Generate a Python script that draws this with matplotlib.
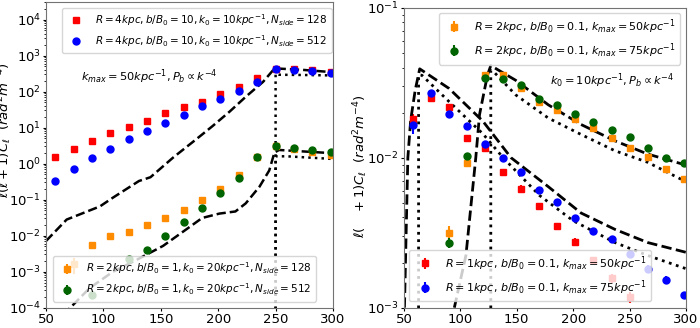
import numpy as np
import matplotlib
matplotlib.use("Agg")
import matplotlib.pyplot as plt

# multipole bins
ell = [58, 74, 90, 106, 122, 138, 154, 170, 186, 202, 218, 234, 250, 266, 282, 298]

# ---- left panel data ----
red_L = [1.52, 2.5, 4.3, 7.2, 10.7, 15.8, 25.7, 37, 53, 86, 137, 245, 430, 430, 388, 350]
blue_L = [0.33, 0.71, 1.44, 2.6, 4.8, 8.1, 13.7, 22.5, 39, 62, 106, 187, 413, 388, 364, 330]
ell_orange_L = [74, 90, 106, 122, 138, 154, 170, 186, 202, 218, 234, 250, 266, 282, 298]
orange_L = [1.65e-3, 5.5e-3, 9.8e-3, 1.3e-2, 2.0e-2, 3.0e-2, 5.0e-2, 9.8e-2, 0.2, 0.48, 1.5, 3.1, 2.5, 2.06, 1.78]
orange_L_err = [8e-4, 5e-4, 5e-4, 5e-4, 6e-4, 8e-4, 1e-3, 2e-3, 4e-3, 1e-2, 3e-2, 6e-2, 5e-2, 4e-2, 4e-2]
ell_green_L = [90, 122, 138, 154, 170, 186, 202, 218, 234, 250, 266, 282, 298]
green_L = [2.3e-4, 2.2e-3, 4.1e-3, 9.8e-3, 2.4e-2, 6.0e-2, 0.156, 0.41, 1.5, 3.1, 2.65, 2.4, 2.06]
green_L_err = [6e-5, 2e-4, 3e-4, 5e-4, 8e-4, 2e-3, 4e-3, 1e-2, 3e-2, 6e-2, 5e-2, 4e-2, 4e-2]

dash_hi_ell = [50, 68, 97, 108, 131, 141, 161, 181, 195, 210, 224, 239, 249, 253, 275, 300]
dash_hi = [7.1e-3, 0.028, 0.065, 0.112, 0.33, 0.42, 1.5, 4.8, 11, 28, 72, 186, 437, 437, 400, 347]
dash_lo_ell = [65, 88, 108, 131, 152, 172, 186, 201, 215, 224, 236, 244.5, 249, 253, 300]
dash_lo = [6.3e-5, 3.5e-4, 9.8e-4, 2.3e-3, 5.2e-3, 0.0148, 0.031, 0.041, 0.047, 0.079, 0.23, 0.65, 2.04, 2.4, 1.95]
dot_hi_ell = [250, 250, 253, 275, 300]
dot_hi = [1e-6, 316, 295, 290, 282]
dot_lo_ell = [250, 250, 260, 300]
dot_lo = [1e-6, 1.6, 1.6, 1.35]

# ---- right panel data ----
ell_red_R = ell[:13]
red_R = [0.0182, 0.0252, 0.0217, 0.0136, 0.0117, 0.00803, 0.0062, 0.00479, 0.0035, 0.00275, 0.00209, 0.00157, 0.00117]
red_R_err = [0.0015, 0.001, 0.001, 0.0006, 0.0007, 0.0004, 0.0004, 0.0002, 0.00015, 0.00015, 0.0001, 0.0001, 0.0001]
blue_R = [0.0165, 0.0269, 0.0196, 0.01626, 0.01245, 0.00998, 0.00807, 0.0061, 0.0051, 0.00397, 0.00324, 0.00288, 0.00227, 0.00182, 0.00153, 0.00121]
blue_R_err = [0.002, 0.001, 0.001, 0.0006, 0.0005, 0.0005, 0.0003, 0.0002, 0.0002, 0.00015, 0.0001, 0.0001, 0.0001, 0.0001, 0.0001, 0.00005]
ell_R2 = ell[2:]
orange_R = [0.00313, 0.0092, 0.0355, 0.0358, 0.0293, 0.0235, 0.0209, 0.0182, 0.0158, 0.0135, 0.0116, 0.0101, 0.00836, 0.00726]
orange_R_err = [0.00035, 0.0005, 0.001, 0.001, 0.0008, 0.0006, 0.0005, 0.0005, 0.0004, 0.0007, 0.0006, 0.0003, 0.0003, 0.0002]
green_R = [0.0027, 0.0102, 0.034, 0.0337, 0.0308, 0.0247, 0.0225, 0.0196, 0.0173, 0.0153, 0.0138, 0.0116, 0.00998, 0.0092]
green_R_err = [0.0002, 0.0005, 0.001, 0.001, 0.0008, 0.0006, 0.0005, 0.0004, 0.0004, 0.0003, 0.0003, 0.0003, 0.0002, 0.0002]

dash1_ell = [50.5, 52, 53.5, 56, 60, 64, 90, 120, 145, 178, 207, 237, 266, 300]
dash1 = [1e-3, 3.2e-3, 0.01, 0.0178, 0.0282, 0.0392, 0.029, 0.01754, 0.01, 0.00641, 0.00428, 0.00333, 0.00272, 0.00234]
dot1_ell = [63, 63, 66, 90, 120, 138, 170, 200, 237, 266, 300]
dot1 = [7.9e-4, 0.0358, 0.0355, 0.0237, 0.01445, 0.0100, 0.00562, 0.0038, 0.00272, 0.00223, 0.00182]
dash2_ell = [94.7, 105, 113.7, 117, 124, 127, 149, 178, 207, 237, 266, 301]
dash2 = [1e-3, 2.24e-3, 0.01, 0.01936, 0.0355, 0.0412, 0.0329, 0.02254, 0.01667, 0.01297, 0.01059, 0.00889]
dot2_ell = [127, 127, 130, 149, 178, 207, 237, 266, 300]
dot2 = [7.9e-4, 0.0382, 0.0372, 0.0263, 0.0184, 0.0143, 0.01114, 0.00933, 0.00692]

ylab_L = r"$\ell(\ell+1)C_\ell$  $(rad^2m^{-4})$"
ylab_R = r"$\ell(\ \ \ +1)C_\ell$  $(rad^2m^{-4})$"

fig = plt.figure(figsize=(7, 3.28), dpi=100)
axL = fig.add_axes([0.0657, 0.062, 0.41, 0.932])
axR = fig.add_axes([0.577, 0.062, 0.403, 0.914])

ms = 5
# left panel
l1 = axL.errorbar(ell, red_L, fmt='s', color='red', ms=ms, label=r"$R=4kpc, b/B_0=10, k_0=10kpc^{-1}, N_{side}=128$")
l2 = axL.errorbar(ell, blue_L, fmt='o', color='blue', ms=ms, label=r"$R=4kpc, b/B_0=10, k_0=10kpc^{-1}, N_{side}=512$")
l3 = axL.errorbar(ell_orange_L, orange_L, yerr=orange_L_err, fmt='s', color='darkorange', ms=ms, label=r"$R=2kpc, b/B_0=1, k_0=20kpc^{-1}, N_{side}=128$")
l4 = axL.errorbar(ell_green_L, green_L, yerr=green_L_err, fmt='o', color='darkgreen', ms=ms, label=r"$R=2kpc, b/B_0=1, k_0=20kpc^{-1}, N_{side}=512$")
axL.plot(dash_hi_ell, dash_hi, 'k--', lw=1.8)
axL.plot(dash_lo_ell, dash_lo, 'k--', lw=1.8)
axL.plot(dot_hi_ell, dot_hi, 'k:', lw=1.8)
axL.plot(dot_lo_ell, dot_lo, 'k:', lw=1.8)
axL.set_yscale('log')
axL.set_xlim(50, 300)
axL.set_ylim(1e-4, 3.1e4)
axL.text(0.122, 0.756, r"$k_{max}=50kpc^{-1}, P_b \propto k^{-4}$", transform=axL.transAxes, fontsize=8.2, va='center')
legA = axL.legend(handles=[l1, l2], loc='upper right', bbox_to_anchor=(0.995, 0.98), borderaxespad=0, fontsize=7.5)
axL.add_artist(legA)
axL.legend(handles=[l3, l4], loc='lower left', bbox_to_anchor=(0.023, 0.02), borderaxespad=0, fontsize=7.5)
axL.set_ylabel(ylab_L, fontsize=9.5)
axL.yaxis.set_label_coords(-0.112, 0.58)

# right panel
r1 = axR.errorbar(ell_red_R, red_R, yerr=red_R_err, fmt='s', color='red', ms=ms, label=r"$R=1kpc$, $b/B_0=0.1$, $k_{max}=50kpc^{-1}$")
r2 = axR.errorbar(ell, blue_R, yerr=blue_R_err, fmt='o', color='blue', ms=ms, label=r"$R=1kpc$, $b/B_0=0.1$, $k_{max}=75kpc^{-1}$")
r3 = axR.errorbar(ell_R2, orange_R, yerr=orange_R_err, fmt='s', color='darkorange', ms=ms, label=r"$R=2kpc$, $b/B_0=0.1$, $k_{max}=50kpc^{-1}$")
r4 = axR.errorbar(ell_R2, green_R, yerr=green_R_err, fmt='o', color='darkgreen', ms=ms, label=r"$R=2kpc$, $b/B_0=0.1$, $k_{max}=75kpc^{-1}$")
axR.plot(dash1_ell, dash1, 'k--', lw=2)
axR.plot(dot1_ell, dot1, 'k:', lw=2)
axR.plot(dash2_ell, dash2, 'k--', lw=2)
axR.plot(dot2_ell, dot2, 'k:', lw=2)
axR.set_yscale('log')
axR.set_xlim(50, 300)
axR.set_ylim(1e-3, 1e-1)
axR.text(0.518, 0.758, r"$k_0=10kpc^{-1}, P_b \propto k^{-4}$", transform=axR.transAxes, fontsize=8.2, va='center')
legB = axR.legend(handles=[r3, r4], loc='upper right', bbox_to_anchor=(0.98, 0.983), borderaxespad=0, fontsize=8)
axR.add_artist(legB)
axR.legend(handles=[r1, r2], loc='lower left', bbox_to_anchor=(0.019, 0.021), borderaxespad=0, fontsize=8)
axR.set_ylabel(ylab_R, fontsize=9.5)
axR.yaxis.set_label_coords(-0.12, 0.47)

for ax in (axL, axR):
    ax.set_xticks([50, 100, 150, 200, 250, 300])
    ax.tick_params(labelsize=9.5, length=2.5, pad=1)
    ax.tick_params(which='minor', length=1.5)
    for s in ax.spines.values():
        s.set_color('0.45')

fig.savefig("out.png", dpi=100)
